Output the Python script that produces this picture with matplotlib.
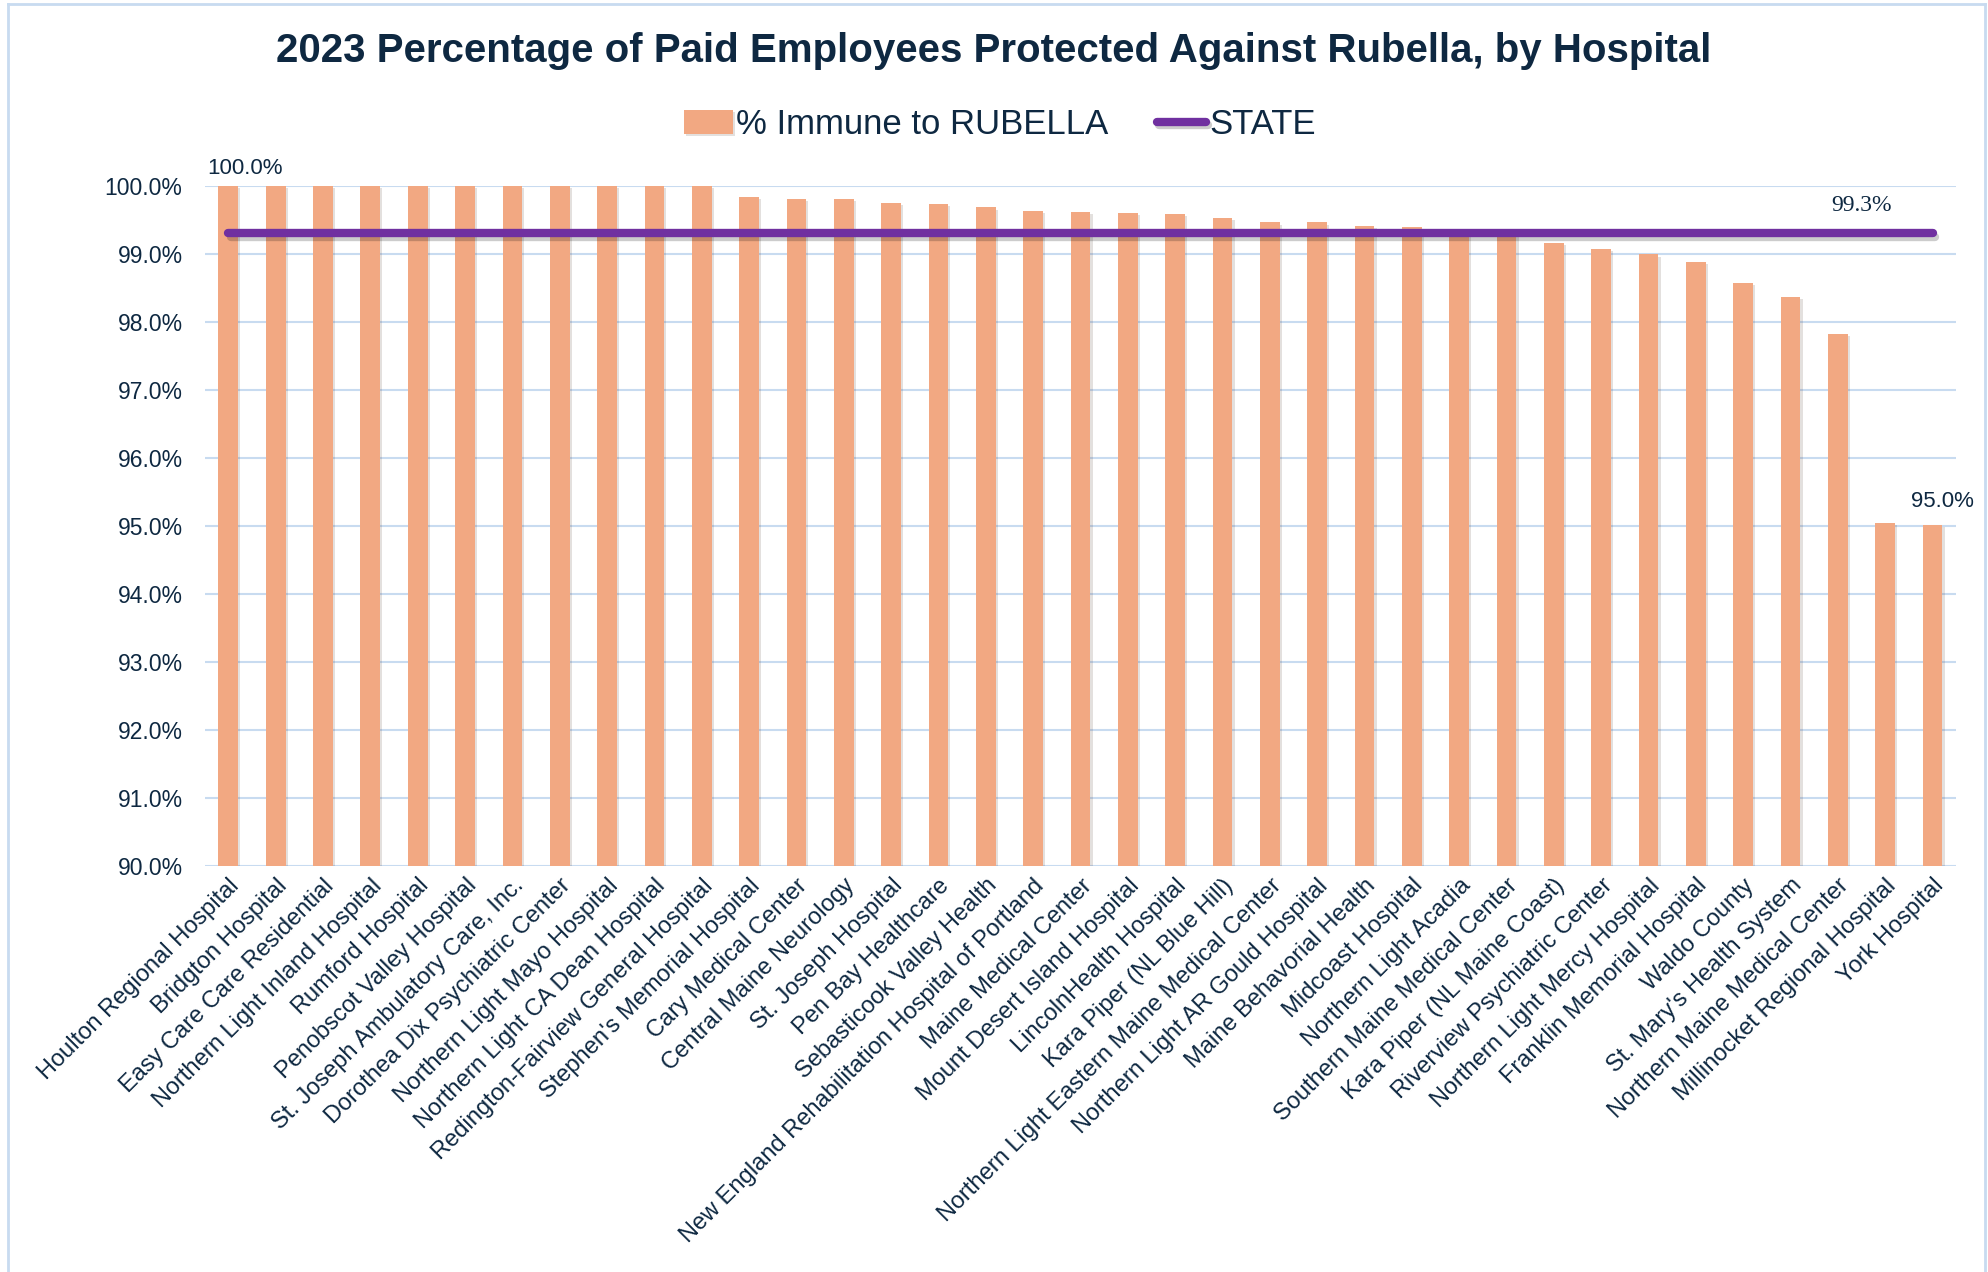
import numpy as np
import matplotlib
matplotlib.use('Agg')
import matplotlib.pyplot as plt
import matplotlib.ticker as ticker
import matplotlib.patheffects as pe
from matplotlib.lines import Line2D

hospitals = [
    "Houlton Regional Hospital", "Bridgton Hospital", "Easy Care Care Residential",
    "Northern Light Inland Hospital", "Rumford Hospital", "Penobscot Valley Hospital",
    "St. Joseph Ambulatory Care, Inc.", "Dorothea Dix Psychiatric Center",
    "Northern Light Mayo Hospital", "Northern Light CA Dean Hospital",
    "Redington-Fairview General Hospital", "Stephen's Memorial Hospital",
    "Cary Medical Center", "Central Maine Neurology", "St. Joseph Hospital",
    "Pen Bay Healthcare", "Sebasticook Valley Health",
    "New England Rehabilitation Hospital of Portland", "Maine Medical Center",
    "Mount Desert Island Hospital", "LincolnHealth Hospital", "Kara Piper (NL Blue Hill)",
    "Northern Light Eastern Maine Medical Center", "Northern Light AR Gould Hospital",
    "Maine Behavorial Health", "Midcoast Hospital", "Northern Light Acadia",
    "Southern Maine Medical Center", "Kara Piper (NL Maine Coast)",
    "Riverview Psychiatric Center", "Northern Light Mercy Hospital",
    "Franklin Memorial Hospital", "Waldo County", "St. Mary's Health System",
    "Northern Maine Medical Center", "Millinocket Regional Hospital", "York Hospital",
]
immune = [100.0, 100.0, 100.0, 100.0, 100.0, 100.0, 100.0, 100.0, 100.0, 100.0,
          100.0, 99.84, 99.81, 99.81, 99.75, 99.73, 99.68, 99.63, 99.61, 99.60,
          99.58, 99.52, 99.46, 99.46, 99.41, 99.40, 99.31, 99.27, 99.16, 99.07,
          98.99, 98.88, 98.57, 98.37, 97.82, 95.05, 95.02]
state = 99.3

text_col = '#0E2841'
bar_col = '#F2A882'
line_col = '#7030A0'
grid_col = '#C8DBF0'

plt.rcParams['font.family'] = ['Liberation Sans', 'DejaVu Sans']

fig = plt.figure(figsize=(19.88, 12.72), dpi=100)
ax = fig.add_axes([0.103, 0.319, 0.881, 0.535])

x = np.arange(len(hospitals))
bars = ax.bar(x, immune, width=0.42, color=bar_col, label='% Immune to RUBELLA', zorder=2,
              path_effects=[pe.SimplePatchShadow(offset=(1.5, -1.5), alpha=0.15), pe.Normal()])
line, = ax.plot(x, [state] * len(x), color=line_col, lw=6, solid_capstyle='round', label='STATE',
                zorder=3, path_effects=[pe.SimpleLineShadow(offset=(1.5, -2.5), alpha=0.2), pe.Normal()])

ax.set_ylim(90, 100)
ax.set_xlim(-0.5, len(x) - 0.5)
ax.yaxis.set_major_locator(ticker.MultipleLocator(1))
ax.yaxis.set_major_formatter(ticker.FuncFormatter(lambda v, p: f'{v:.1f}%'))
ax.grid(axis='y', color=grid_col, lw=1.5, zorder=0)
ax.set_axisbelow(True)
for s in ax.spines.values():
    s.set_visible(False)
ax.tick_params(length=0, colors=text_col, labelsize=16.5)
ax.tick_params(axis='y', pad=16)
ax.tick_params(axis='x', pad=6)
ax.set_xticks(x)
ax.set_xticklabels(hospitals, rotation=45, ha='right', rotation_mode='anchor', fontsize=17)

# data labels
ax.text(0.34, 100.1, f'{immune[0]:.1f}%', ha='center', va='bottom', fontsize=16, color=text_col,
        clip_on=False)
ax.text(36.2, 95.2, f'{immune[-1]:.1f}%', ha='center', va='bottom', fontsize=16, color=text_col)
ax.text(34.5, 99.55, f'{state:.1f}%', ha='center', va='bottom', fontsize=17, color=text_col,
        family='Liberation Serif')

fig.text(0.5, 0.960, '2023 Percentage of Paid Employees Protected Against Rubella, by Hospital',
         ha='center', va='center', fontsize=29, fontweight='bold', color=text_col)
leg = fig.legend([bars, line], ['% Immune to RUBELLA', 'STATE'], loc='center',
                 bbox_to_anchor=(0.503, 0.902), ncol=2, frameon=False,
                 fontsize=25, handlelength=1.4, handletextpad=0.1, columnspacing=1.4,
                 labelcolor=text_col)

# chart area border
for xs, ys in [([0.004, 0.004], [0.0, 0.997]), ([0.004, 0.9985], [0.997, 0.997]),
               ([0.9985, 0.9985], [0.0, 0.997])]:
    fig.add_artist(Line2D(xs, ys, color=grid_col, lw=2, transform=fig.transFigure))

fig.savefig('out.png', dpi=100, facecolor='white')
